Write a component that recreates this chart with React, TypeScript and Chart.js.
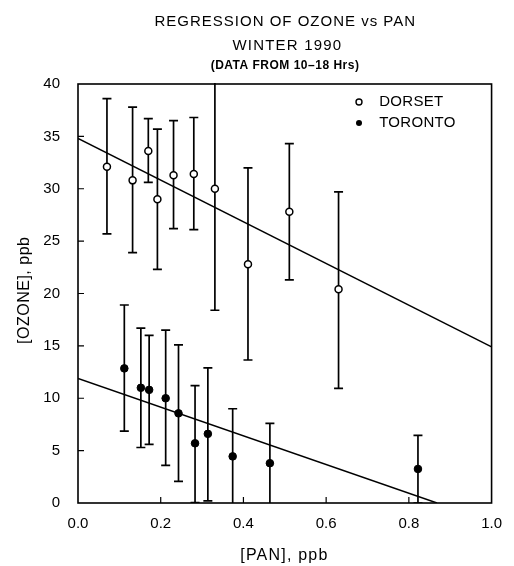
import React, { useEffect, useRef } from "react";
import { Chart, registerables } from "chart.js";

Chart.register(...registerables);

// ---- data ----
const dorsetX = [0.07, 0.132, 0.17, 0.192, 0.231, 0.28, 0.331, 0.411, 0.511, 0.63];
const dorsetY = [32.1, 30.8, 33.6, 29.0, 31.3, 31.4, 30.0, 22.8, 27.8, 20.4];
const dorsetHi = [38.6, 37.8, 36.7, 35.7, 36.5, 36.8, 41.6, 32.0, 34.3, 29.7];
const dorsetLo = [25.7, 23.9, 30.6, 22.3, 26.2, 26.1, 18.4, 13.65, 21.3, 10.95];

const torontoX = [0.112, 0.152, 0.172, 0.212, 0.243, 0.283, 0.314, 0.374, 0.464, 0.822];
const torontoY = [12.85, 11.0, 10.8, 10.0, 8.56, 5.7, 6.6, 4.45, 3.8, 3.25];
const torontoHi = [18.9, 16.7, 16.0, 16.5, 15.1, 11.2, 12.9, 9.0, 7.6, 6.46];
const torontoLo = [6.87, 5.3, 5.6, 3.6, 2.07, 0.05, 0.2, -0.1, -0.1, 0.0];

const dorsetFitX = [0, 1];
const dorsetFitY = [34.8, 14.9];
const torontoFitX = [0, 0.868];
const torontoFitY = [11.9, 0];

const titleLines = ["REGRESSION OF OZONE vs PAN", "WINTER 1990"];
const subtitleText = "(DATA FROM 10\u201318 Hrs)";
const seriesNames = ["DORSET", "TORONTO"];
const xTitle = "[PAN], ppb";
const yTitle = "[OZONE], ppb";
const xInnerTicks = [0.2, 0.4, 0.6, 0.8];
const yInnerTicks = [5, 10, 15, 20, 25, 30, 35];

const FONT = "'Liberation Sans', Arial, Helvetica, sans-serif";

const toPts = (xs: number[], ys: number[]) => xs.map((x, i) => ({ x, y: ys[i] }));

const spacedText = (ctx: any, text: string, x: number, y: number, spacing: number) => {
  ctx.letterSpacing = `${spacing}px`;
  ctx.fillText(text, x + spacing / 2, y);
  ctx.letterSpacing = "0px";
};

const decorPlugin = {
  id: "decor",
  beforeDatasetsDraw(chart: any) {
    const { ctx, chartArea: a, scales } = chart;
    const xs = scales.x;
    const ys = scales.y;
    ctx.save();
    ctx.beginPath();
    ctx.rect(a.left, a.top - 1, a.right - a.left, a.bottom - a.top + 1);
    ctx.clip();
    ctx.strokeStyle = "#000";
    ctx.lineWidth = 1.7;
    const bars = (X: number[], Hi: number[], Lo: number[]) => {
      X.forEach((x, i) => {
        const px = xs.getPixelForValue(x);
        const ph = ys.getPixelForValue(Hi[i]);
        const pl = ys.getPixelForValue(Lo[i]);
        ctx.beginPath();
        ctx.moveTo(px, ph);
        ctx.lineTo(px, pl);
        ctx.moveTo(px - 4.5, ph);
        ctx.lineTo(px + 4.5, ph);
        ctx.moveTo(px - 4.5, pl);
        ctx.lineTo(px + 4.5, pl);
        ctx.stroke();
      });
    };
    bars(dorsetX, dorsetHi, dorsetLo);
    bars(torontoX, torontoHi, torontoLo);
    ctx.restore();
  },
  afterDraw(chart: any) {
    const { ctx, chartArea: a, scales } = chart;
    const xs = scales.x;
    const ys = scales.y;
    ctx.save();
    // frame
    ctx.strokeStyle = "#000";
    ctx.lineWidth = 1.6;
    ctx.strokeRect(a.left, a.top, a.right - a.left, a.bottom - a.top);
    // inner ticks
    ctx.lineWidth = 1.2;
    ctx.beginPath();
    xInnerTicks.forEach((v) => {
      const px = xs.getPixelForValue(v);
      ctx.moveTo(px, a.bottom);
      ctx.lineTo(px, a.bottom - 6);
    });
    yInnerTicks.forEach((v) => {
      const py = ys.getPixelForValue(v);
      ctx.moveTo(a.left, py);
      ctx.lineTo(a.left + 6, py);
    });
    ctx.stroke();

    // titles
    const cx = (a.left + a.right) / 2;
    ctx.fillStyle = "#000";
    ctx.textAlign = "center";
    ctx.textBaseline = "middle";
    ctx.font = `15px ${FONT}`;
    spacedText(ctx, titleLines[0], cx, 22, 1.0);
    spacedText(ctx, titleLines[1], cx + 2, 46, 1.2);
    ctx.font = `bold 12px ${FONT}`;
    spacedText(ctx, subtitleText, cx, 66, 0.5);

    // axis titles
    ctx.font = `16px ${FONT}`;
    spacedText(ctx, xTitle, cx - 1, 556, 1.2);
    ctx.save();
    ctx.translate(25, (a.top + a.bottom) / 2 - 3);
    ctx.rotate(-Math.PI / 2);
    spacedText(ctx, yTitle, 0, 0, 0.5);
    ctx.restore();

    // legend
    const lx = 359;
    const ly = [102, 123];
    ctx.textAlign = "left";
    ctx.font = `15px ${FONT}`;
    ly.forEach((y, i) => {
      ctx.beginPath();
      ctx.arc(lx, y, 3, 0, Math.PI * 2);
      if (i === 0) {
        ctx.fillStyle = "#fff";
        ctx.fill();
        ctx.lineWidth = 1.4;
        ctx.strokeStyle = "#000";
        ctx.stroke();
      } else {
        ctx.fillStyle = "#000";
        ctx.fill();
      }
      ctx.fillStyle = "#000";
      spacedText(ctx, seriesNames[i], 379, y, 0.3);
    });
    ctx.restore();
  },
};

export default function App() {
  const ref = useRef<HTMLCanvasElement | null>(null);
  useEffect(() => {
    if (!ref.current) return;
    const chart = new Chart(ref.current, {
      type: "scatter",
      data: {
        datasets: [
          {
            label: "DORSET fit",
            type: "line",
            data: toPts(dorsetFitX, dorsetFitY),
            borderColor: "#000",
            borderWidth: 1.5,
            pointRadius: 0,
            fill: false,
          } as any,
          {
            label: "TORONTO fit",
            type: "line",
            data: toPts(torontoFitX, torontoFitY),
            borderColor: "#000",
            borderWidth: 1.5,
            pointRadius: 0,
            fill: false,
          } as any,
          {
            label: seriesNames[0],
            data: toPts(dorsetX, dorsetY),
            pointRadius: 3.5,
            pointBackgroundColor: "#fff",
            pointBorderColor: "#000",
            pointBorderWidth: 1.5,
          },
          {
            label: seriesNames[1],
            data: toPts(torontoX, torontoY),
            pointRadius: 3.8,
            pointBackgroundColor: "#000",
            pointBorderColor: "#000",
            pointBorderWidth: 1,
          },
        ],
      },
      options: {
        responsive: false,
        animation: false,
        devicePixelRatio: 1,
        layout: { padding: { top: 84, right: 15, left: 0, bottom: 0 } },
        plugins: {
          legend: { display: false },
          title: { display: false },
          tooltip: { enabled: false },
        },
        scales: {
          x: {
            type: "linear",
            min: 0,
            max: 1,
            grid: { display: false, drawTicks: false },
            border: { display: false },
            ticks: {
              stepSize: 0.2,
              padding: 12,
              color: "#000",
              font: { family: FONT, size: 15 },
              maxRotation: 0,
              callback: (v: any) => Number(v).toFixed(1),
            },
            afterFit: (s: any) => {
              s.height = 63;
            },
          },
          y: {
            type: "linear",
            min: 0,
            max: 40,
            grid: { display: false, drawTicks: false },
            border: { display: false },
            ticks: {
              stepSize: 5,
              padding: 18,
              color: "#000",
              font: { family: FONT, size: 15 },
            },
            afterFit: (s: any) => {
              s.width = 78;
            },
          },
        },
      },
      plugins: [decorPlugin],
    });
    return () => chart.destroy();
  }, []);
  return (
    <div style={{ position: "absolute", left: 0, top: 0, width: 514, height: 566, background: "#fff" }}>
      <canvas ref={ref} width={514} height={566} />
    </div>
  );
}
